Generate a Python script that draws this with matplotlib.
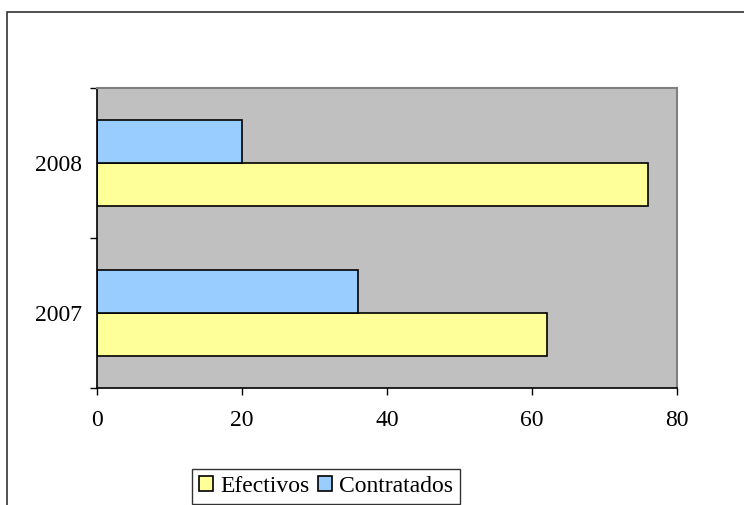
import numpy as np
import matplotlib.pyplot as plt
from matplotlib.patches import Rectangle

years = ['2007', '2008']
efectivos = [62, 76]
contratados = [36, 20]

plt.rcParams['font.family'] = ['Liberation Serif', 'DejaVu Serif']

W, H = 744, 505
fig = plt.figure(figsize=(W / 100, H / 100), dpi=100)

# outer chart frame (runs off the right and bottom edges)
fig.patches.append(Rectangle((7 / W, -0.1), 1.0, (H - 12) / H + 0.1,
                             transform=fig.transFigure, fill=False,
                             edgecolor='#333333', linewidth=1.2))

ax = fig.add_axes([97 / W, (H - 388) / H, 580 / W, 300 / H])
ax.set_facecolor('#C0C0C0')

pos = np.arange(len(years))
h = 1 / 1.75 / 2
ax.barh(pos - h / 2, efectivos, height=h, color='#FFFF99', edgecolor='black',
        linewidth=1.2, label='Efectivos')
ax.barh(pos + h / 2, contratados, height=h, color='#99CCFF', edgecolor='black',
        linewidth=1.2, label='Contratados')

ax.set_xlim(0, 80)
ax.set_ylim(-0.5, 1.5)
ax.set_xticks([0, 20, 40, 60, 80])
ax.set_yticks([-0.5, 0.5, 1.5])
ax.set_yticklabels([])
ax.set_yticks(pos, minor=True)
ax.set_yticklabels(years, minor=True)
ax.tick_params(axis='y', which='minor', length=0, pad=11, labelsize=17)
ax.tick_params(axis='y', which='major', length=5, width=1, direction='out')
ax.tick_params(axis='x', length=5, width=1, direction='out', pad=11, labelsize=17)

for side in ['top', 'right']:
    ax.spines[side].set_color('#808080')
    ax.spines[side].set_linewidth(1.5)
for side in ['left', 'bottom']:
    ax.spines[side].set_color('black')
    ax.spines[side].set_linewidth(1.2)

leg = fig.legend(loc='lower left', bbox_to_anchor=(192 / W, 1 / H), ncol=2,
                 fontsize=17, frameon=True, fancybox=False, handlelength=0.6,
                 handleheight=0.6, handletextpad=0.3, columnspacing=0.35,
                 borderpad=0.3, borderaxespad=0.0)
leg.get_frame().set_edgecolor('black')
leg.get_frame().set_linewidth(1.0)

fig.savefig('out.png', dpi=100)
